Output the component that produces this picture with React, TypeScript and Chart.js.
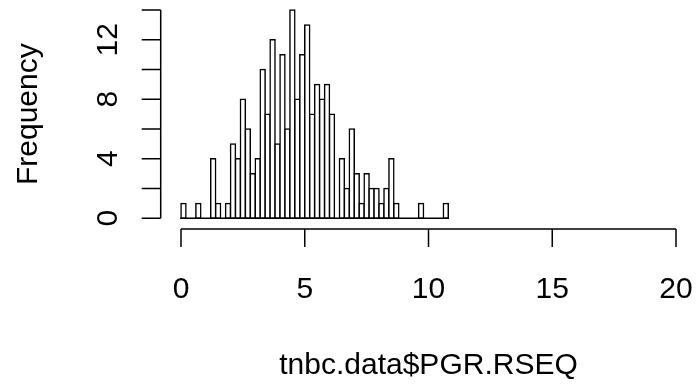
import React, { useEffect, useRef } from "react";
import { Chart, registerables } from "chart.js";

Chart.register(...registerables);

// Histogram breaks (bin edges) and counts
const breaks = [
  0, 0.2, 0.4, 0.6, 0.8, 1.0, 1.2, 1.4, 1.6, 1.8, 2.0, 2.2, 2.4, 2.6, 2.8,
  3.0, 3.2, 3.4, 3.6, 3.8, 4.0, 4.2, 4.4, 4.6, 4.8, 5.0, 5.2, 5.4, 5.6, 5.8,
  6.0, 6.2, 6.4, 6.6, 6.8, 7.0, 7.2, 7.4, 7.6, 7.8, 8.0, 8.2, 8.4, 8.6, 8.8,
  9.0, 9.2, 9.4, 9.6, 9.8, 10.0, 10.2, 10.4, 10.6, 10.8,
];
const counts = [
  1, 0, 0, 1, 0, 0, 4, 1, 0, 1,
  5, 4, 8, 6, 3, 4, 10, 7, 12, 5,
  11, 6, 14, 8, 11, 13, 7, 9, 8, 9,
  7, 0, 4, 2, 6, 3, 1, 3, 2, 2,
  1, 2, 4, 1, 0, 0, 0, 0, 1, 0,
  0, 0, 0, 1,
];

const xTicks = [0, 5, 10, 15, 20];
const xTickLabels = ["0", "5", "10", "15", "20"];
const yTicks = [0, 2, 4, 6, 8, 10, 12, 14];
const yTickLabels = ["0", "", "4", "", "8", "", "12", ""];
const xTitle = "tnbc.data$PGR.RSEQ";
const yTitle = "Frequency";

const X_MIN = -0.8;
const X_MAX = 20.8;
const Y_MIN = -0.56;
const Y_MAX = 14.56;

const FONT = "30px 'Liberation Sans', Arial, sans-serif";
const LINE_W = 1.5;

const rAxesPlugin = {
  id: "rAxes",
  afterDraw(chart: any) {
    const { ctx, chartArea } = chart;
    const xs = chart.scales.x;
    const ys = chart.scales.y;
    ctx.save();
    ctx.strokeStyle = "#000";
    ctx.fillStyle = "#000";
    ctx.lineWidth = LINE_W;

    // histogram baseline (zero-count bins)
    const y0 = ys.getPixelForValue(0);
    ctx.beginPath();
    ctx.moveTo(xs.getPixelForValue(breaks[0]) - 0.75, y0);
    ctx.lineTo(xs.getPixelForValue(breaks[breaks.length - 1]) + 0.75, y0);
    ctx.stroke();

    // x axis
    const axY = chartArea.bottom + 2.5;
    const tickLen = 18;
    ctx.beginPath();
    ctx.moveTo(xs.getPixelForValue(xTicks[0]), axY);
    ctx.lineTo(xs.getPixelForValue(xTicks[xTicks.length - 1]), axY);
    for (const t of xTicks) {
      const px = xs.getPixelForValue(t);
      ctx.moveTo(px, axY);
      ctx.lineTo(px, axY + tickLen);
    }
    ctx.stroke();
    ctx.font = FONT;
    ctx.textAlign = "center";
    ctx.textBaseline = "alphabetic";
    xTicks.forEach((t, i) => {
      ctx.fillText(xTickLabels[i], xs.getPixelForValue(t), 298);
    });
    ctx.fillText(xTitle, (chartArea.left + chartArea.right) / 2, 374);

    // y axis
    const axX = chartArea.left - 0.5;
    ctx.beginPath();
    ctx.moveTo(axX, ys.getPixelForValue(yTicks[0]));
    ctx.lineTo(axX, ys.getPixelForValue(yTicks[yTicks.length - 1]));
    for (const t of yTicks) {
      const py = ys.getPixelForValue(t);
      ctx.moveTo(axX, py);
      ctx.lineTo(axX - 19, py);
    }
    ctx.stroke();
    yTicks.forEach((t, i) => {
      if (!yTickLabels[i]) return;
      ctx.save();
      ctx.translate(117, ys.getPixelForValue(t));
      ctx.rotate(-Math.PI / 2);
      ctx.fillText(yTickLabels[i], 0, 0);
      ctx.restore();
    });
    ctx.save();
    ctx.translate(37, (chartArea.top + chartArea.bottom) / 2);
    ctx.rotate(-Math.PI / 2);
    ctx.fillText(yTitle, 0, 0);
    ctx.restore();

    ctx.restore();
  },
};

export default function App() {
  const ref = useRef<HTMLCanvasElement | null>(null);

  useEffect(() => {
    if (!ref.current) return;
    const data = counts.map((c, i) => ({
      x: (breaks[i] + breaks[i + 1]) / 2,
      y: c,
    }));
    const chart = new Chart(ref.current, {
      type: "bar",
      data: {
        datasets: [
          {
            data: data as any,
            backgroundColor: "#ffffff",
            borderColor: "#000000",
            borderWidth: LINE_W,
            borderSkipped: false,
            inflateAmount: LINE_W / 2,
            barPercentage: 1,
            categoryPercentage: 1,
          } as any,
        ],
      },
      options: {
        responsive: false,
        animation: false,
        layout: {
          padding: { left: 161.2, right: 1.2, top: 1.7, bottom: 157.4 },
        },
        plugins: {
          legend: { display: false },
          tooltip: { enabled: false },
          title: { display: false },
        },
        scales: {
          x: {
            type: "linear",
            min: X_MIN,
            max: X_MAX,
            display: false,
            offset: false,
          },
          y: {
            type: "linear",
            min: Y_MIN,
            max: Y_MAX,
            display: false,
          },
        },
      },
      plugins: [rAxesPlugin],
    });
    return () => chart.destroy();
  }, []);

  return (
    <div
      style={{
        position: "absolute",
        left: 0,
        top: 0,
        width: 697,
        height: 384,
        background: "#fff",
      }}
    >
      <canvas ref={ref} width={697} height={384} />
    </div>
  );
}
